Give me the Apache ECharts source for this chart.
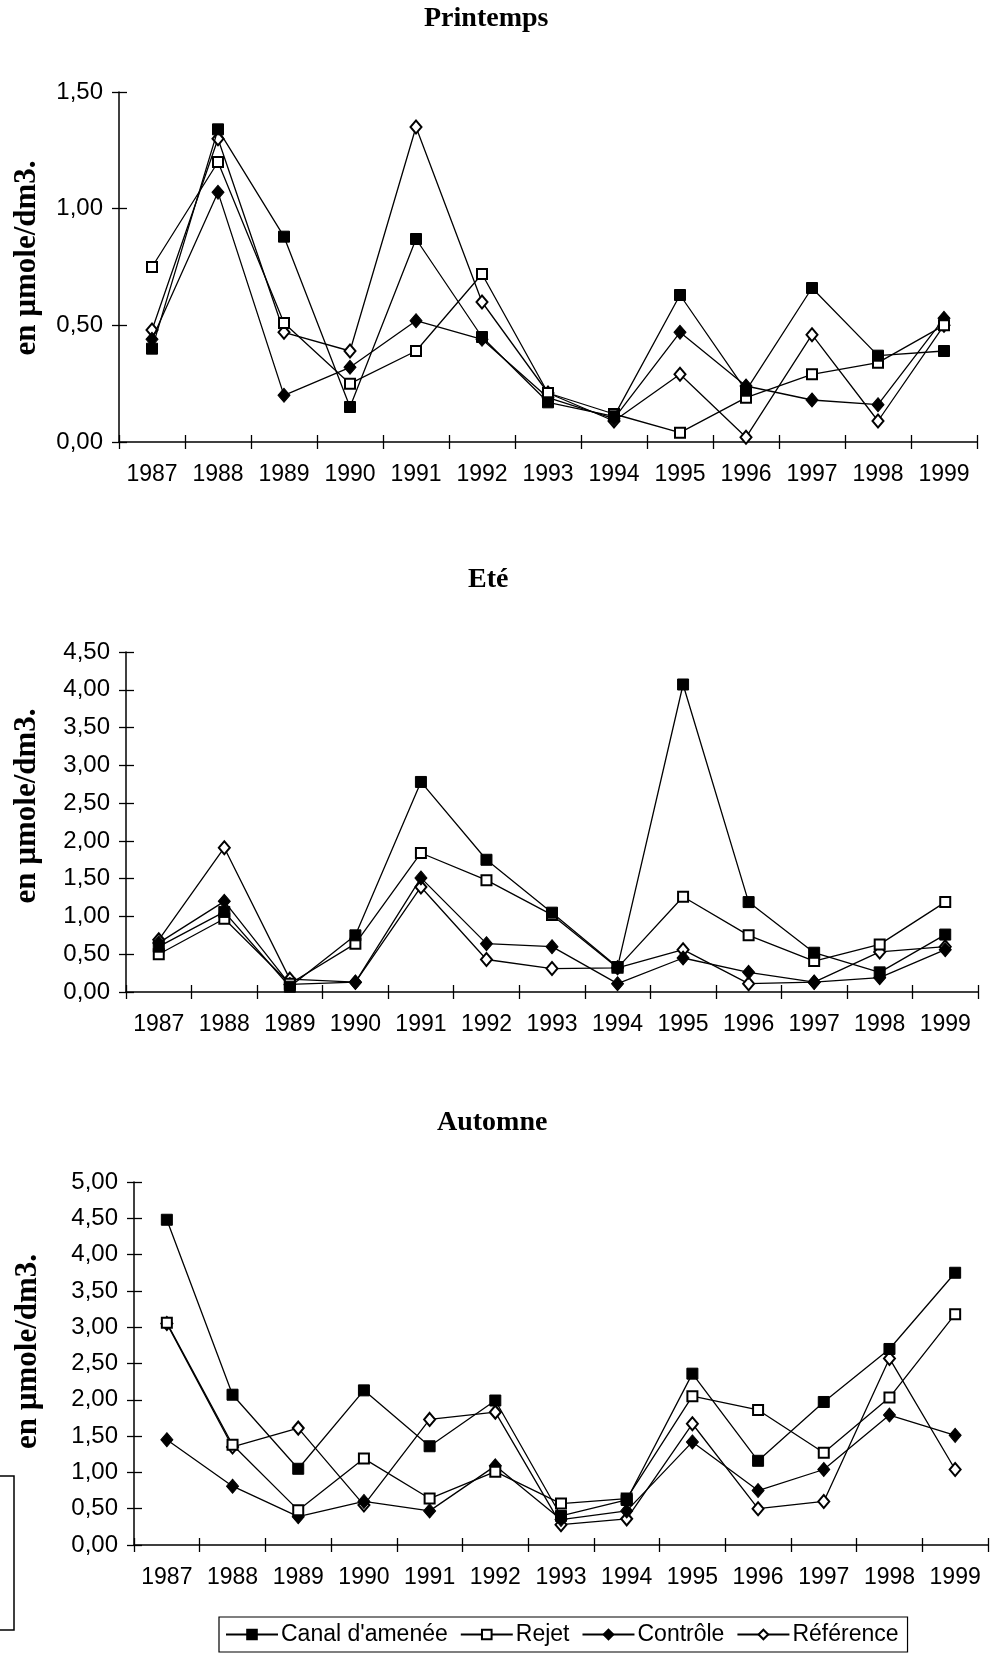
<!DOCTYPE html>
<html>
<head>
<meta charset="utf-8">
<script src="https://cdn.jsdelivr.net/npm/echarts@6/dist/echarts.min.js"></script>
<style>
  html, body { margin: 0; padding: 0; background: #fff; }
  #chart { width: 995px; height: 1654px; }
</style>
</head>
<body>
<div id="chart"></div>
<script>
// ---- Data ----
const years = ['1987','1988','1989','1990','1991','1992','1993','1994','1995','1996','1997','1998','1999'];
const seriesNames = ["Canal d'amenée", 'Rejet', 'Contrôle', 'Référence'];
const panelTitles = ['Printemps', 'Eté', 'Automne'];
const yAxisTitle = 'en µmole/dm3.';
const yMax = [1.5, 4.5, 5.0];

// Printemps
const canalPrintemps     = [0.40, 1.34, 0.88, 0.15, 0.87, 0.45, 0.17, 0.11, 0.63, 0.22, 0.66, 0.37, 0.39];
const rejetPrintemps     = [0.75, 1.20, 0.51, 0.25, 0.39, 0.72, 0.21, 0.12, 0.04, 0.19, 0.29, 0.34, 0.50];
const controlePrintemps  = [0.44, 1.07, 0.20, 0.32, 0.52, 0.44, 0.19, 0.10, 0.47, 0.24, 0.18, 0.16, 0.53];
const referencePrintemps = [0.48, 1.30, 0.47, 0.39, 1.35, 0.60, 0.21, 0.09, 0.29, 0.02, 0.46, 0.09, 0.50];

// Eté
const canalEte     = [0.60, 1.06, 0.07, 0.75, 2.78, 1.75, 1.05, 0.33, 4.07, 1.19, 0.52, 0.26, 0.76];
const rejetEte     = [0.50, 0.97, 0.11, 0.64, 1.84, 1.48, 1.02, 0.32, 1.26, 0.75, 0.41, 0.63, 1.19];
const controleEte  = [0.65, 1.20, 0.10, 0.13, 1.51, 0.64, 0.60, 0.11, 0.45, 0.26, 0.13, 0.19, 0.56];
const referenceEte = [0.69, 1.91, 0.17, 0.13, 1.39, 0.43, 0.31, 0.32, 0.56, 0.11, 0.13, 0.53, 0.60];

// Automne
const canalAutomne     = [4.48, 2.07, 1.05, 2.13, 1.36, 1.99, 0.40, 0.62, 2.36, 1.16, 1.97, 2.70, 3.75];
const rejetAutomne     = [3.06, 1.38, 0.48, 1.19, 0.64, 1.01, 0.57, 0.64, 2.05, 1.86, 1.27, 2.03, 3.18];
const controleAutomne  = [1.45, 0.81, 0.39, 0.60, 0.47, 1.09, 0.35, 0.47, 1.42, 0.75, 1.04, 1.79, 1.51];
const referenceAutomne = [3.05, 1.35, 1.61, 0.55, 1.73, 1.83, 0.28, 0.36, 1.67, 0.50, 0.60, 2.57, 1.04];

const panelData = [
  [canalPrintemps, rejetPrintemps, controlePrintemps, referencePrintemps],
  [canalEte, rejetEte, controleEte, referenceEte],
  [canalAutomne, rejetAutomne, controleAutomne, referenceAutomne]
];

// ---- Layout / style ----
const grids = [
  { left: 119, top: 92,   width: 858, height: 350 },
  { left: 126, top: 652,  width: 852, height: 340 },
  { left: 134, top: 1182, width: 854, height: 363 }
];
const titlePos = [ { left: 424, top: 5 }, { left: 468, top: 566 }, { left: 437, top: 1109 } ];
const nameGaps = [77, 84, 91];
const namePadLeft = [18, 32, 24];
const labelMargins = [21, 21, 21];

const sans = "'Liberation Sans', Arial, sans-serif";
const serif = "'Liberation Serif', 'Times New Roman', serif";
const ink = '#000';

const markerStyles = [
  { symbol: 'rect',    symbolSize: 11, itemStyle: { color: ink, borderColor: ink, borderWidth: 1 } },
  { symbol: 'rect',    symbolSize: 10, itemStyle: { color: '#fff', borderColor: ink, borderWidth: 2 } },
  { symbol: 'diamond', symbolSize: [12, 14], itemStyle: { color: ink, borderColor: ink, borderWidth: 1 } },
  { symbol: 'diamond', symbolSize: [11, 13], itemStyle: { color: '#fff', borderColor: ink, borderWidth: 2 } }
];

const fmt = v => v.toFixed(2).replace('.', ',');

const title = [], xAxis = [], yAxis = [], series = [];
grids.forEach((g, i) => {
  title.push({
    text: panelTitles[i], left: titlePos[i].left, top: titlePos[i].top, padding: 0,
    textStyle: { fontFamily: serif, fontWeight: 'bold', fontSize: 28, color: ink }
  });
  // main x axis
  xAxis.push({
    type: 'category', gridIndex: i, data: years, position: 'bottom', boundaryGap: true,
    axisLine: { show: true, lineStyle: { color: ink, width: 1.5 } },
    axisTick: { show: true, inside: false, length: 7, lineStyle: { color: ink, width: 1.3 } },
    axisLabel: { interval: 0, margin: labelMargins[i], fontFamily: sans, fontSize: 23, color: ink },
    splitLine: { show: false }
  });
  // companion x axis for the inner half of the crossing ticks
  xAxis.push({
    type: 'category', gridIndex: i, data: years, position: 'bottom', boundaryGap: true,
    axisLine: { show: false },
    axisTick: { show: true, inside: true, length: 7, lineStyle: { color: ink, width: 1.3 } },
    axisLabel: { show: false }, splitLine: { show: false }
  });
  yAxis.push({
    type: 'value', gridIndex: i, min: 0, max: yMax[i], interval: 0.5, position: 'left',
    name: yAxisTitle, nameLocation: 'middle', nameRotate: 90, nameGap: nameGaps[i],
    nameTextStyle: { fontFamily: serif, fontWeight: 'bold', fontSize: 31, color: ink,
                     padding: [0, 0, 0, namePadLeft[i]] },
    axisLine: { show: true, lineStyle: { color: ink, width: 1.5 } },
    axisTick: { show: true, inside: false, length: 7, lineStyle: { color: ink, width: 1.3 } },
    axisLabel: { margin: 16, fontFamily: sans, fontSize: 24, color: ink, formatter: fmt },
    splitLine: { show: false }
  });
  yAxis.push({
    type: 'value', gridIndex: i, min: 0, max: yMax[i], interval: 0.5, position: 'left',
    axisLine: { show: false },
    axisTick: { show: true, inside: true, length: 8, lineStyle: { color: ink, width: 1.3 } },
    axisLabel: { show: false }, splitLine: { show: false }
  });
  panelData[i].forEach((vals, s) => {
    series.push(Object.assign({
      name: seriesNames[s], type: 'line', xAxisIndex: 2 * i, yAxisIndex: 2 * i,
      data: vals, showSymbol: true, showAllSymbol: true, z: 10 - s,
      lineStyle: { color: ink, width: 1.3 }
    }, markerStyles[s]));
  });
});

const chart = echarts.init(document.getElementById('chart'), null, { renderer: 'canvas' });
chart.setOption({
  animation: false,
  backgroundColor: '#fff',
  title: title,
  grid: grids.map(g => Object.assign({ containLabel: false }, g)),
  xAxis: xAxis,
  yAxis: yAxis,
  legend: {
    data: seriesNames, left: 219, top: 1617,
    orient: 'horizontal', itemWidth: 52, itemHeight: 12, itemGap: 12,
    padding: [6, 9, 6, 6],
    borderColor: ink, borderWidth: 1.2, backgroundColor: '#fff',
    textStyle: { fontFamily: sans, fontSize: 23, color: ink, padding: [0, 0, 0, -2] }
  },
  graphic: [{
    type: 'rect', silent: true,
    shape: { x: -6, y: 1476, width: 20, height: 154 },
    style: { fill: 'none', stroke: ink, lineWidth: 1.5 }
  }],
  series: series
});
</script>
</body>
</html>
